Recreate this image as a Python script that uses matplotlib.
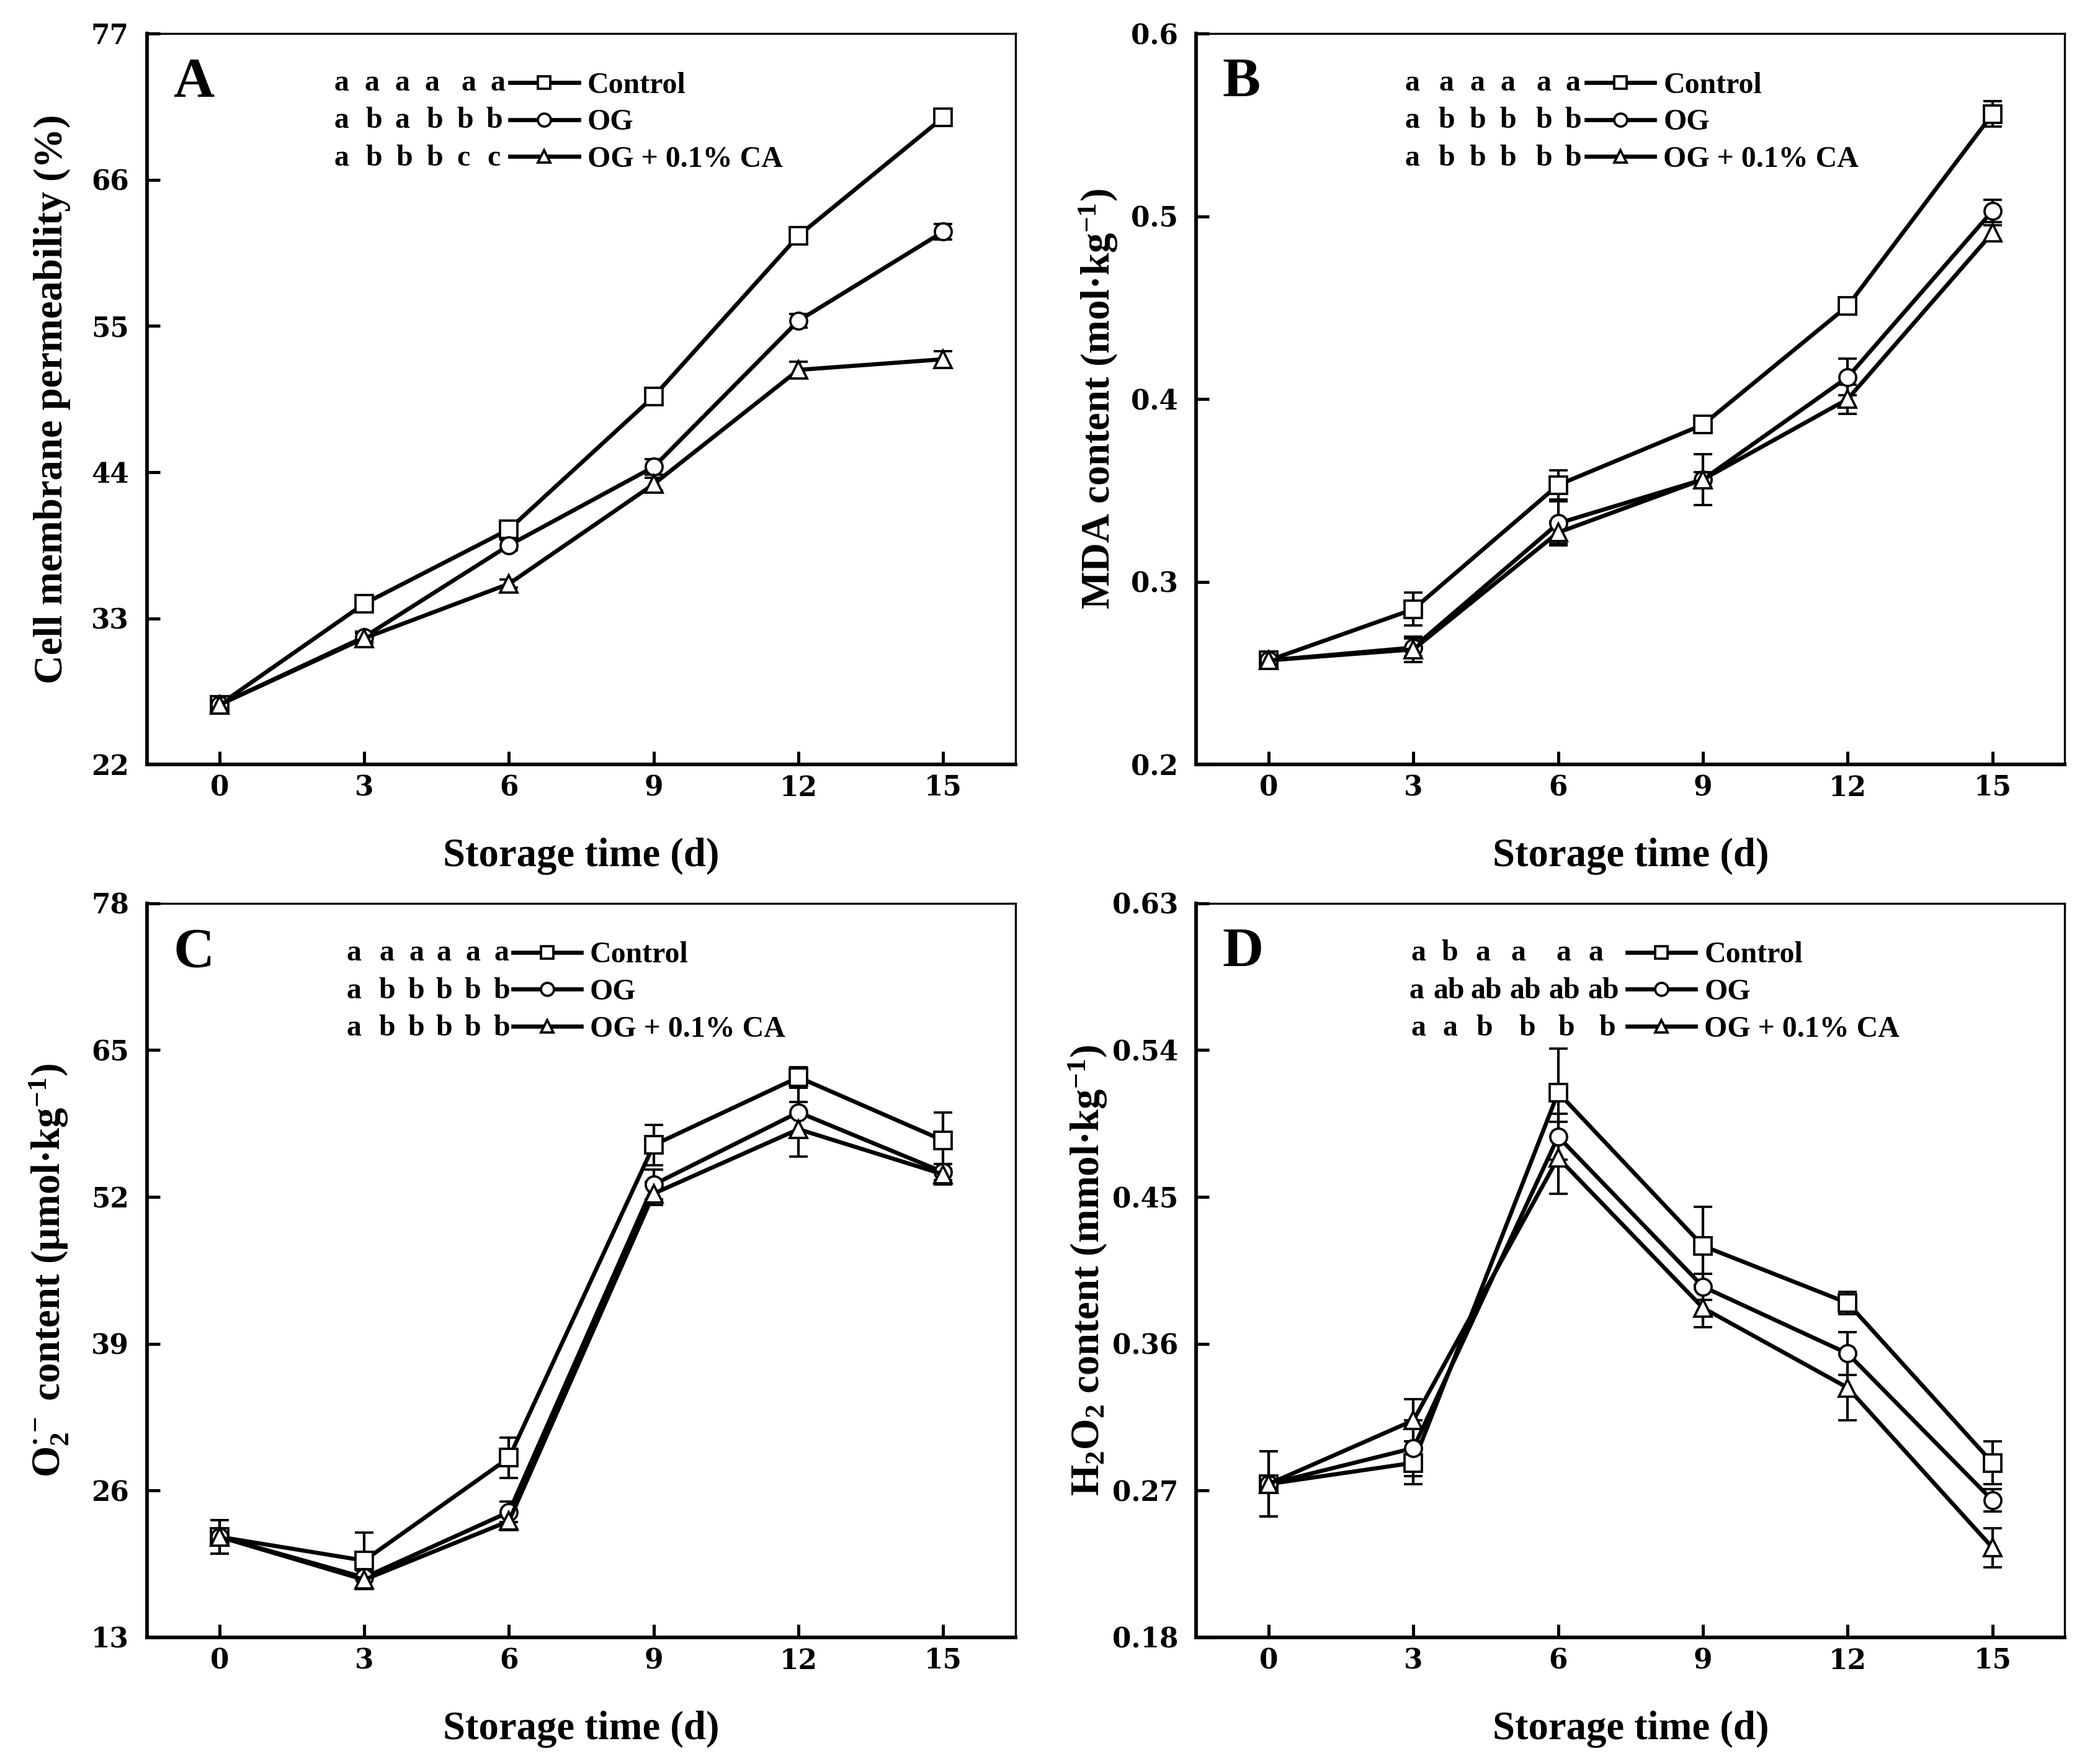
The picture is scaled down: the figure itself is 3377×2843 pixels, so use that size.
import numpy as np
import matplotlib
matplotlib.use('Agg')
import matplotlib.pyplot as plt
from matplotlib.lines import Line2D
from matplotlib.ticker import FormatStrFormatter

plt.rcParams['font.family'] = 'Liberation Serif'
plt.rcParams['font.weight'] = 'bold'
plt.rcParams['mathtext.fontset'] = 'custom'
plt.rcParams['mathtext.rm'] = 'Liberation Serif:bold'
plt.rcParams['mathtext.it'] = 'Liberation Serif:italic:bold'
plt.rcParams['mathtext.bf'] = 'Liberation Serif:bold'

days = [0, 3, 6, 9, 12, 15]
groups = ['Control', 'OG', 'OG + 0.1% CA']

# A - cell membrane permeability (%)
cmp_ctrl = [26.5, 34.1, 39.7, 49.7, 61.8, 70.7]
cmp_og = [26.5, 31.6, 38.5, 44.4, 55.4, 62.1]
cmp_ca = [26.5, 31.5, 35.6, 43.1, 51.7, 52.5]
cmp_ctrl_err = [0.4, 0.4, 0.4, 0.3, 0.6, 0.4]
cmp_og_err = [0.4, 0.4, 0.4, 0.6, 0.5, 0.6]
cmp_ca_err = [0.4, 0.4, 0.3, 0.5, 0.6, 0.6]
cmp_letters = [['a', 'a', 'a', 'a', 'a', 'a'],
               ['a', 'b', 'a', 'b', 'b', 'b'],
               ['a', 'b', 'b', 'b', 'c', 'c']]

# B - MDA
mda_ctrl = [0.257, 0.285, 0.353, 0.386, 0.451, 0.556]
mda_og = [0.257, 0.264, 0.332, 0.356, 0.412, 0.503]
mda_ca = [0.257, 0.263, 0.327, 0.356, 0.400, 0.491]
mda_ctrl_err = [0.002, 0.009, 0.008, 0.003, 0.002, 0.007]
mda_og_err = [0.002, 0.005, 0.012, 0.014, 0.010, 0.006]
mda_ca_err = [0.002, 0.007, 0.006, 0.004, 0.008, 0.004]
mda_letters = [['a', 'a', 'a', 'a', 'a', 'a'],
               ['a', 'b', 'b', 'b', 'b', 'b'],
               ['a', 'b', 'b', 'b', 'b', 'b']]

# C - superoxide anion
o2_ctrl = [21.9, 19.8, 28.9, 56.6, 62.6, 57.0]
o2_og = [21.9, 18.3, 24.1, 53.1, 59.5, 54.2]
o2_ca = [21.9, 18.1, 23.3, 52.3, 58.0, 54.0]
o2_ctrl_err = [1.5, 2.5, 1.8, 1.8, 0.9, 2.5]
o2_og_err = [1.5, 0.9, 0.9, 1.3, 2.2, 0.7]
o2_ca_err = [1.5, 0.8, 0.8, 1.0, 2.4, 0.9]
o2_letters = [['a', 'a', 'a', 'a', 'a', 'a'],
              ['a', 'b', 'b', 'b', 'b', 'b'],
              ['a', 'b', 'b', 'b', 'b', 'b']]

# D - H2O2
h2o2_ctrl = [0.274, 0.287, 0.514, 0.420, 0.385, 0.287]
h2o2_og = [0.274, 0.296, 0.487, 0.395, 0.354, 0.264]
h2o2_ca = [0.274, 0.313, 0.474, 0.382, 0.333, 0.235]
h2o2_ctrl_err = [0.020, 0.013, 0.027, 0.024, 0.007, 0.013]
h2o2_og_err = [0.020, 0.017, 0.014, 0.008, 0.013, 0.007]
h2o2_ca_err = [0.020, 0.013, 0.022, 0.012, 0.020, 0.012]
h2o2_letters = [['a', 'b', 'a', 'a', 'a', 'a'],
                ['a', 'ab', 'ab', 'ab', 'ab', 'ab'],
                ['a', 'a', 'b', 'b', 'b', 'b']]

markers = ['s', 'o', '^']


def draw_panel(ax, series, errs, letters, yticks, ylabel, tag, letter_x, leg_x,
               ylab_x=-0.088):
    for y, e, m in zip(series, errs, markers):
        ax.errorbar(days, y, yerr=e, color='k', lw=1.6, marker=m, ms=6.5,
                    mfc='white', mec='k', mew=0.9, capsize=3.5, elinewidth=1.0,
                    capthick=1.0)
    ax.set_xlim(-1.5, 16.5)
    ax.set_ylim(yticks[0], yticks[-1])
    ax.set_xticks(days)
    ax.set_yticks(yticks)
    ax.yaxis.set_major_formatter(FormatStrFormatter('%g'))
    ax.tick_params(direction='in', length=5, width=1.2, top=False, right=False)
    ax.tick_params(axis='x', pad=4)
    ax.tick_params(axis='y', pad=7)
    for lbl in ax.get_xticklabels() + ax.get_yticklabels():
        lbl.set_fontfamily('DejaVu Serif')
        lbl.set_fontweight('bold')
        lbl.set_fontsize(10.5)
    for s in ['left', 'bottom']:
        ax.spines[s].set_linewidth(1.4)
    for s in ['top', 'right']:
        ax.spines[s].set_linewidth(0.8)
    ax.set_xlabel('Storage time (d)', fontsize=15.5, fontweight='bold')
    ax.set_ylabel(ylabel, fontsize=15.5, fontweight='bold')
    ax.xaxis.set_label_coords(0.5, -0.1)
    ax.yaxis.set_label_coords(ylab_x, 0.5)
    ax.text(0.03, 0.932, tag, transform=ax.transAxes, fontsize=22,
            fontweight='bold', ha='left', va='center')

    rows_y = [0.932, 0.881, 0.830]
    for row, xs, ry in zip(letters, letter_x, rows_y):
        for lx, t in zip(xs, row):
            ax.text(lx, ry, t, transform=ax.transAxes, fontsize=11.5,
                    fontweight='bold', ha='center', va='center')
    handles = [Line2D([], [], color='k', lw=1.6, marker=m, ms=5, mfc='white',
                      mec='k', mew=0.9) for m in markers]
    ax.legend(handles, groups, loc='upper left',
              bbox_to_anchor=(leg_x, rows_y[0] + 0.016),
              frameon=False, fontsize=11.5, handlelength=2.3, handletextpad=0.3,
              labelspacing=0.33, borderpad=0, borderaxespad=0)


fig = plt.figure(figsize=(3377 / 300, 2843 / 300), dpi=300)
axA = fig.add_axes([0.0702, 0.5666, 0.4146, 0.4143])
axB = fig.add_axes([0.5710, 0.5666, 0.4146, 0.4143])
axC = fig.add_axes([0.0702, 0.0718, 0.4146, 0.4161])
axD = fig.add_axes([0.5710, 0.0718, 0.4146, 0.4161])

draw_panel(axA, [cmp_ctrl, cmp_og, cmp_ca], [cmp_ctrl_err, cmp_og_err, cmp_ca_err],
           cmp_letters, [22, 33, 44, 55, 66, 77], 'Cell membrane permeability (%)', 'A',
           [[0.224, 0.259, 0.294, 0.328, 0.370, 0.404],
            [0.224, 0.261, 0.294, 0.331, 0.366, 0.400],
            [0.224, 0.261, 0.296, 0.331, 0.364, 0.399]], 0.418)
draw_panel(axB, [mda_ctrl, mda_og, mda_ca], [mda_ctrl_err, mda_og_err, mda_ca_err],
           mda_letters, [0.2, 0.3, 0.4, 0.5, 0.6], r'MDA content (mol·kg$^{-1}$)', 'B',
           [[0.249, 0.288, 0.324, 0.359, 0.400, 0.434]] * 3, 0.449)
draw_panel(axC, [o2_ctrl, o2_og, o2_ca], [o2_ctrl_err, o2_og_err, o2_ca_err],
           o2_letters, [13, 26, 39, 52, 65, 78], r'O$_2^{·-}$ content (μmol·kg$^{-1}$)', 'C',
           [[0.238, 0.276, 0.310, 0.342, 0.375, 0.408]] * 3, 0.421)
draw_panel(axD, [h2o2_ctrl, h2o2_og, h2o2_ca], [h2o2_ctrl_err, h2o2_og_err, h2o2_ca_err],
           h2o2_letters, [0.18, 0.27, 0.36, 0.45, 0.54, 0.63],
           r'H$_2$O$_2$ content (mmol·kg$^{-1}$)', 'D',
           [[0.256, 0.292, 0.330, 0.371, 0.423, 0.460],
            [0.254, 0.291, 0.334, 0.379, 0.424, 0.469],
            [0.256, 0.292, 0.332, 0.381, 0.426, 0.473]], 0.496, ylab_x=-0.1)

fig.savefig('out.png', dpi=300)
